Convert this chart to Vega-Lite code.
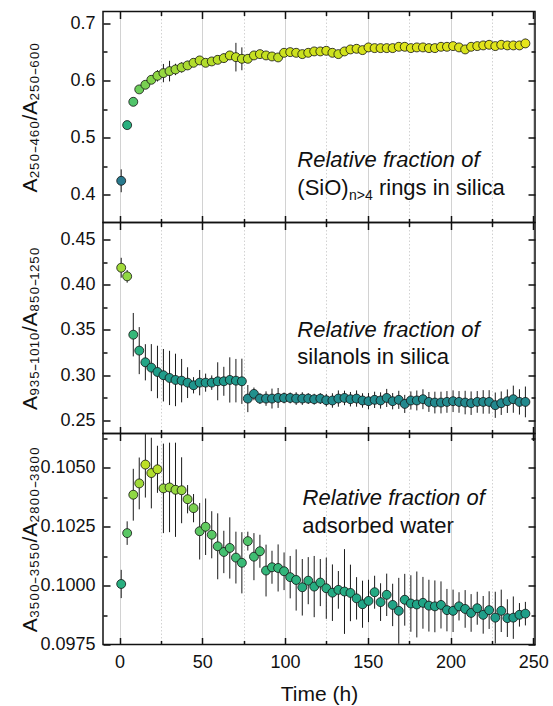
{
  "$schema": "https://vega.github.io/schema/vega-lite/v6.json",
  "padding": {"top": 9.5, "left": 18, "right": 5, "bottom": 5},
  "background": "white",
  "spacing": 0,
  "bounds": "flush",
  "config": {
    "view": {"stroke": "#111", "strokeWidth": 1.5},
    "axis": {"labelFont": "Liberation Sans", "titleFont": "Liberation Sans", "labelColor": "#111", "titleColor": "#111", "titleFontWeight": "normal", "labelFontSize": 18, "titleFontSize": 21, "domain": false, "tickColor": "#111", "tickWidth": 1.5}
  },
  "datasets": {
    "p1": [
      {"t":1.0,"v":0.4245,"e":0.020},{"t":4.6,"v":0.5219,"e":0.005},{"t":8.3,"v":0.5626,"e":0.005},{"t":11.9,"v":0.5843,"e":0.006},{"t":15.6,"v":0.5924,"e":0.006},{"t":19.2,"v":0.6011,"e":0.007},{"t":22.9,"v":0.6081,"e":0.010},{"t":26.5,"v":0.6128,"e":0.016},{"t":30.2,"v":0.6163,"e":0.018},{"t":33.8,"v":0.6192,"e":0.010},{"t":37.5,"v":0.6227,"e":0.009},{"t":41.1,"v":0.6262,"e":0.008},{"t":44.7,"v":0.6308,"e":0.007},{"t":48.4,"v":0.6350,"e":0.006},{"t":52.0,"v":0.6308,"e":0.006},{"t":55.7,"v":0.6332,"e":0.006},{"t":59.3,"v":0.6360,"e":0.006},{"t":63.0,"v":0.6390,"e":0.008},{"t":66.6,"v":0.6437,"e":0.007},{"t":70.3,"v":0.6407,"e":0.025},{"t":73.9,"v":0.6378,"e":0.020},{"t":77.5,"v":0.6378,"e":0.007},{"t":81.2,"v":0.6437,"e":0.005},{"t":84.8,"v":0.6460,"e":0.005},{"t":88.5,"v":0.6437,"e":0.005},{"t":92.1,"v":0.6419,"e":0.005},{"t":95.8,"v":0.6402,"e":0.005},{"t":99.4,"v":0.6483,"e":0.005},{"t":103.1,"v":0.6495,"e":0.005},{"t":106.7,"v":0.6483,"e":0.005},{"t":110.4,"v":0.6460,"e":0.005},{"t":114.0,"v":0.6483,"e":0.005},{"t":117.6,"v":0.6507,"e":0.005},{"t":121.3,"v":0.6507,"e":0.005},{"t":124.9,"v":0.6518,"e":0.005},{"t":128.6,"v":0.6483,"e":0.006},{"t":132.2,"v":0.6460,"e":0.006},{"t":135.9,"v":0.6507,"e":0.005},{"t":139.5,"v":0.6542,"e":0.005},{"t":143.2,"v":0.6553,"e":0.005},{"t":146.8,"v":0.6530,"e":0.005},{"t":150.4,"v":0.6577,"e":0.005},{"t":154.1,"v":0.6565,"e":0.005},{"t":157.7,"v":0.6565,"e":0.005},{"t":161.4,"v":0.6565,"e":0.005},{"t":165.0,"v":0.6565,"e":0.005},{"t":168.7,"v":0.6588,"e":0.005},{"t":172.3,"v":0.6588,"e":0.005},{"t":176.0,"v":0.6565,"e":0.005},{"t":179.6,"v":0.6577,"e":0.005},{"t":183.3,"v":0.6577,"e":0.005},{"t":186.9,"v":0.6565,"e":0.005},{"t":190.5,"v":0.6565,"e":0.005},{"t":194.2,"v":0.6588,"e":0.005},{"t":197.8,"v":0.6588,"e":0.005},{"t":201.5,"v":0.6600,"e":0.005},{"t":205.1,"v":0.6577,"e":0.005},{"t":208.8,"v":0.6542,"e":0.005},{"t":212.4,"v":0.6588,"e":0.005},{"t":216.1,"v":0.6600,"e":0.005},{"t":219.7,"v":0.6612,"e":0.006},{"t":223.3,"v":0.6623,"e":0.006},{"t":227.0,"v":0.6600,"e":0.006},{"t":230.6,"v":0.6623,"e":0.006},{"t":234.3,"v":0.6612,"e":0.006},{"t":237.9,"v":0.6612,"e":0.006},{"t":241.6,"v":0.6612,"e":0.006},{"t":245.2,"v":0.6647,"e":0.008}
    ],
    "p2": [
      {"t":1.0,"v":0.4188,"e":0.011},{"t":4.6,"v":0.4093,"e":0.007},{"t":8.3,"v":0.3448,"e":0.024},{"t":11.9,"v":0.3272,"e":0.026},{"t":15.6,"v":0.3143,"e":0.020},{"t":19.2,"v":0.3084,"e":0.026},{"t":22.9,"v":0.3036,"e":0.029},{"t":26.5,"v":0.3000,"e":0.029},{"t":30.2,"v":0.2970,"e":0.030},{"t":33.8,"v":0.2948,"e":0.029},{"t":37.5,"v":0.2940,"e":0.024},{"t":41.1,"v":0.2918,"e":0.017},{"t":44.7,"v":0.2889,"e":0.009},{"t":48.4,"v":0.2918,"e":0.014},{"t":52.0,"v":0.2918,"e":0.010},{"t":55.7,"v":0.2918,"e":0.008},{"t":59.3,"v":0.2933,"e":0.021},{"t":63.0,"v":0.2933,"e":0.016},{"t":66.6,"v":0.2948,"e":0.025},{"t":70.3,"v":0.2940,"e":0.024},{"t":73.9,"v":0.2933,"e":0.025},{"t":77.5,"v":0.2742,"e":0.015},{"t":81.2,"v":0.2794,"e":0.007},{"t":84.8,"v":0.2742,"e":0.006},{"t":88.5,"v":0.2742,"e":0.008},{"t":92.1,"v":0.2742,"e":0.011},{"t":95.8,"v":0.2749,"e":0.011},{"t":99.4,"v":0.2749,"e":0.006},{"t":103.1,"v":0.2749,"e":0.006},{"t":106.7,"v":0.2742,"e":0.007},{"t":110.4,"v":0.2742,"e":0.007},{"t":114.0,"v":0.2742,"e":0.006},{"t":117.6,"v":0.2735,"e":0.006},{"t":121.3,"v":0.2742,"e":0.006},{"t":124.9,"v":0.2724,"e":0.007},{"t":128.6,"v":0.2721,"e":0.008},{"t":132.2,"v":0.2742,"e":0.009},{"t":135.9,"v":0.2749,"e":0.008},{"t":139.5,"v":0.2735,"e":0.008},{"t":143.2,"v":0.2742,"e":0.009},{"t":146.8,"v":0.2721,"e":0.008},{"t":150.4,"v":0.2713,"e":0.009},{"t":154.1,"v":0.2728,"e":0.009},{"t":157.7,"v":0.2721,"e":0.009},{"t":161.4,"v":0.2749,"e":0.010},{"t":165.0,"v":0.2713,"e":0.009},{"t":168.7,"v":0.2728,"e":0.010},{"t":172.3,"v":0.2683,"e":0.010},{"t":176.0,"v":0.2721,"e":0.010},{"t":179.6,"v":0.2721,"e":0.011},{"t":183.3,"v":0.2735,"e":0.011},{"t":186.9,"v":0.2705,"e":0.011},{"t":190.5,"v":0.2698,"e":0.012},{"t":194.2,"v":0.2698,"e":0.012},{"t":197.8,"v":0.2705,"e":0.012},{"t":201.5,"v":0.2713,"e":0.012},{"t":205.1,"v":0.2705,"e":0.012},{"t":208.8,"v":0.2698,"e":0.013},{"t":212.4,"v":0.2691,"e":0.013},{"t":216.1,"v":0.2705,"e":0.012},{"t":219.7,"v":0.2705,"e":0.013},{"t":223.3,"v":0.2705,"e":0.013},{"t":227.0,"v":0.2669,"e":0.014},{"t":230.6,"v":0.2691,"e":0.013},{"t":234.3,"v":0.2713,"e":0.013},{"t":237.9,"v":0.2735,"e":0.015},{"t":241.6,"v":0.2705,"e":0.014},{"t":245.2,"v":0.2705,"e":0.017}
    ],
    "p3": [
      {"t":1.0,"v":0.10007,"e":0.0006},{"t":4.6,"v":0.10223,"e":0.0005},{"t":8.3,"v":0.10386,"e":0.0011},{"t":11.9,"v":0.10434,"e":0.0011},{"t":15.6,"v":0.10514,"e":0.0014},{"t":19.2,"v":0.10478,"e":0.0015},{"t":22.9,"v":0.10494,"e":0.0010},{"t":26.5,"v":0.10413,"e":0.0019},{"t":30.2,"v":0.10417,"e":0.0019},{"t":33.8,"v":0.10407,"e":0.0020},{"t":37.5,"v":0.10405,"e":0.0014},{"t":41.1,"v":0.10367,"e":0.0006},{"t":44.7,"v":0.10329,"e":0.0006},{"t":48.4,"v":0.10231,"e":0.0012},{"t":52.0,"v":0.10250,"e":0.0012},{"t":55.7,"v":0.10216,"e":0.0010},{"t":59.3,"v":0.10167,"e":0.0014},{"t":63.0,"v":0.10143,"e":0.0009},{"t":66.6,"v":0.10160,"e":0.0013},{"t":70.3,"v":0.10119,"e":0.0011},{"t":73.9,"v":0.10097,"e":0.0013},{"t":77.5,"v":0.10189,"e":0.0004},{"t":81.2,"v":0.10123,"e":0.0010},{"t":84.8,"v":0.10146,"e":0.0007},{"t":88.5,"v":0.10064,"e":0.0011},{"t":92.1,"v":0.10078,"e":0.0007},{"t":95.8,"v":0.10075,"e":0.0010},{"t":99.4,"v":0.10061,"e":0.0008},{"t":103.1,"v":0.10036,"e":0.0009},{"t":106.7,"v":0.10024,"e":0.0013},{"t":110.4,"v":0.09993,"e":0.0012},{"t":114.0,"v":0.10021,"e":0.0010},{"t":117.6,"v":0.09996,"e":0.0013},{"t":121.3,"v":0.10013,"e":0.0010},{"t":124.9,"v":0.09989,"e":0.0013},{"t":128.6,"v":0.09970,"e":0.0012},{"t":132.2,"v":0.09982,"e":0.0008},{"t":135.9,"v":0.09975,"e":0.0018},{"t":139.5,"v":0.09969,"e":0.0012},{"t":143.2,"v":0.09946,"e":0.0009},{"t":146.8,"v":0.09921,"e":0.0010},{"t":150.4,"v":0.09935,"e":0.0009},{"t":154.1,"v":0.09972,"e":0.0007},{"t":157.7,"v":0.09930,"e":0.0008},{"t":161.4,"v":0.09961,"e":0.0009},{"t":165.0,"v":0.09918,"e":0.0009},{"t":168.7,"v":0.09893,"e":0.0014},{"t":172.3,"v":0.09940,"e":0.0011},{"t":176.0,"v":0.09924,"e":0.0012},{"t":179.6,"v":0.09920,"e":0.0014},{"t":183.3,"v":0.09927,"e":0.0011},{"t":186.9,"v":0.09915,"e":0.0011},{"t":190.5,"v":0.09912,"e":0.0011},{"t":194.2,"v":0.09918,"e":0.0010},{"t":197.8,"v":0.09896,"e":0.0009},{"t":201.5,"v":0.09893,"e":0.0009},{"t":205.1,"v":0.09912,"e":0.0006},{"t":208.8,"v":0.09901,"e":0.0008},{"t":212.4,"v":0.09884,"e":0.0008},{"t":216.1,"v":0.09904,"e":0.0007},{"t":219.7,"v":0.09876,"e":0.0008},{"t":223.3,"v":0.09896,"e":0.0008},{"t":227.0,"v":0.09864,"e":0.0011},{"t":230.6,"v":0.09893,"e":0.0009},{"t":234.3,"v":0.09862,"e":0.0008},{"t":237.9,"v":0.09864,"e":0.0009},{"t":241.6,"v":0.09876,"e":0.0005},{"t":245.2,"v":0.09881,"e":0.0005}
    ]
  },
  "resolve": {"scale": {"x": "independent", "y": "independent", "color": "independent"}},
  "vconcat": [
    {
      "width": 432, "height": 211,
      "resolve": {"scale": {"x": "independent", "y": "independent"}},
      "layer": [
        {"data": {"name": "p1"}, "mark": {"type": "point", "opacity": 0},
         "encoding": {"x": {"field": "t", "type": "quantitative", "scale": {"domain": [-10, 251], "nice": false, "zero": false},
                            "axis": {"orient": "bottom", "values": [0, 50, 100, 150, 200, 250], "grid": true, "gridColor": "#d2d2d2", "gridWidth": 1, "tickSize": -7, "labels": false, "title": null}},
                      "y": {"field": "v", "type": "quantitative", "scale": {"domain": [0.3516, 0.7205], "nice": false, "zero": false},
                            "axis": {"orient": "left", "values": [0.4, 0.5, 0.6, 0.7], "format": ".1f", "grid": false, "tickSize": -7, "labelPadding": 15, "title": "A₂₅₀₋₄₆₀/A₂₅₀₋₆₀₀", "titleX": -67, "titleBaseline": "alphabetic"}}}},
        {"data": {"name": "p1"}, "mark": {"type": "point", "opacity": 0},
         "encoding": {"x": {"field": "t", "type": "quantitative", "scale": {"domain": [-10, 251], "nice": false, "zero": false},
                            "axis": {"orient": "bottom", "values": [25, 75, 125, 175, 225], "grid": true, "gridColor": "#d2d2d2", "gridDash": [1.5, 2], "tickSize": -4, "labels": false, "title": null}},
                      "y": {"field": "v", "type": "quantitative", "scale": {"domain": [0.3516, 0.7205], "nice": false, "zero": false},
                            "axis": {"orient": "left", "values": [0.45, 0.55, 0.65], "grid": false, "tickSize": -4, "labels": false, "title": null}}}},
        {"data": {"name": "p1"}, "mark": {"type": "point", "opacity": 0},
         "encoding": {"x": {"field": "t", "type": "quantitative", "scale": {"domain": [-10, 251], "nice": false, "zero": false},
                            "axis": {"orient": "top", "values": [0, 50, 100, 150, 200, 250], "grid": false, "tickSize": -7, "labels": false, "title": null}},
                      "y": {"field": "v", "type": "quantitative", "scale": {"domain": [0.3516, 0.7205], "nice": false, "zero": false},
                            "axis": {"orient": "right", "values": [0.4, 0.5, 0.6, 0.7], "grid": false, "tickSize": -7, "labels": false, "title": null}}}},
        {"data": {"name": "p1"}, "mark": {"type": "point", "opacity": 0},
         "encoding": {"x": {"field": "t", "type": "quantitative", "scale": {"domain": [-10, 251], "nice": false, "zero": false},
                            "axis": {"orient": "top", "values": [25, 75, 125, 175, 225], "grid": false, "tickSize": -4, "labels": false, "title": null}},
                      "y": {"field": "v", "type": "quantitative", "scale": {"domain": [0.3516, 0.7205], "nice": false, "zero": false},
                            "axis": {"orient": "right", "values": [0.45, 0.55, 0.65], "grid": false, "tickSize": -4, "labels": false, "title": null}}}},
        {
          "layer": [
            {"data": {"name": "p1"}, "mark": {"type": "errorbar", "color": "#1a1a1a", "thickness": 1, "clip": true},
             "encoding": {"x": {"field": "t", "type": "quantitative", "scale": {"domain": [-10, 251], "nice": false, "zero": false}, "axis": null},
                          "y": {"field": "v", "type": "quantitative", "scale": {"domain": [0.3516, 0.7205], "nice": false, "zero": false}, "axis": null},
                          "yError": {"field": "e"}}},
            {"data": {"name": "p1"}, "mark": {"type": "circle", "size": 80, "opacity": 1, "stroke": "#111", "strokeWidth": 0.8},
             "encoding": {"x": {"field": "t", "type": "quantitative", "scale": {"domain": [-10, 251], "nice": false, "zero": false}, "axis": null},
                          "y": {"field": "v", "type": "quantitative", "scale": {"domain": [0.3516, 0.7205], "nice": false, "zero": false}, "axis": null},
                          "color": {"field": "v", "type": "quantitative", "scale": {"scheme": "viridis", "domain": [0.25, 0.68]}, "legend": null}}},
            {"data": {"values": [{"t": 107.4, "v": 0.4483, "label": "Relative fraction of"}]},
             "mark": {"type": "text", "font": "Liberation Sans", "fontSize": 22, "fontStyle": "italic", "align": "left", "baseline": "alphabetic", "color": "#111"},
             "encoding": {"x": {"field": "t", "type": "quantitative", "axis": null}, "y": {"field": "v", "type": "quantitative", "axis": null}, "text": {"field": "label"}}},
            {"data": {"values": [{"t": 107.4, "v": 0.3994, "label": "(SiO)"}, {"t": 156.7, "v": 0.3994, "label": "rings in silica"}]},
             "mark": {"type": "text", "font": "Liberation Sans", "fontSize": 22, "align": "left", "baseline": "alphabetic", "color": "#111"},
             "encoding": {"x": {"field": "t", "type": "quantitative", "axis": null}, "y": {"field": "v", "type": "quantitative", "axis": null}, "text": {"field": "label"}}},
            {"data": {"values": [{"t": 138.6, "v": 0.3906, "label": "n>4"}]},
             "mark": {"type": "text", "font": "Liberation Sans", "fontSize": 14, "align": "left", "baseline": "alphabetic", "color": "#111"},
             "encoding": {"x": {"field": "t", "type": "quantitative", "axis": null}, "y": {"field": "v", "type": "quantitative", "axis": null}, "text": {"field": "label"}}}
          ]
        }
      ]
    },
    {
      "width": 432, "height": 211,
      "resolve": {"scale": {"x": "independent", "y": "independent"}},
      "layer": [
        {"data": {"name": "p2"}, "mark": {"type": "point", "opacity": 0},
         "encoding": {"x": {"field": "t", "type": "quantitative", "scale": {"domain": [-10, 251], "nice": false, "zero": false},
                            "axis": {"orient": "bottom", "values": [0, 50, 100, 150, 200, 250], "grid": true, "gridColor": "#d2d2d2", "gridWidth": 1, "tickSize": -7, "labels": false, "title": null}},
                      "y": {"field": "v", "type": "quantitative", "scale": {"domain": [0.2356, 0.4688], "nice": false, "zero": false},
                            "axis": {"orient": "left", "values": [0.25, 0.3, 0.35, 0.4, 0.45], "format": ".2f", "grid": false, "tickSize": -7, "labelPadding": 15, "title": "A₉₃₅₋₁₀₁₀/A₈₅₀₋₁₂₅₀", "titleX": -67, "titleBaseline": "alphabetic"}}}},
        {"data": {"name": "p2"}, "mark": {"type": "point", "opacity": 0},
         "encoding": {"x": {"field": "t", "type": "quantitative", "scale": {"domain": [-10, 251], "nice": false, "zero": false},
                            "axis": {"orient": "bottom", "values": [25, 75, 125, 175, 225], "grid": true, "gridColor": "#d2d2d2", "gridDash": [1.5, 2], "tickSize": -4, "labels": false, "title": null}},
                      "y": {"field": "v", "type": "quantitative", "scale": {"domain": [0.2356, 0.4688], "nice": false, "zero": false},
                            "axis": {"orient": "left", "values": [0.275, 0.325, 0.375, 0.425], "grid": false, "tickSize": -4, "labels": false, "title": null}}}},
        {"data": {"name": "p2"}, "mark": {"type": "point", "opacity": 0},
         "encoding": {"x": {"field": "t", "type": "quantitative", "scale": {"domain": [-10, 251], "nice": false, "zero": false},
                            "axis": {"orient": "top", "values": [0, 50, 100, 150, 200, 250], "grid": false, "tickSize": -7, "labels": false, "title": null}},
                      "y": {"field": "v", "type": "quantitative", "scale": {"domain": [0.2356, 0.4688], "nice": false, "zero": false},
                            "axis": {"orient": "right", "values": [0.25, 0.3, 0.35, 0.4, 0.45], "grid": false, "tickSize": -7, "labels": false, "title": null}}}},
        {"data": {"name": "p2"}, "mark": {"type": "point", "opacity": 0},
         "encoding": {"x": {"field": "t", "type": "quantitative", "scale": {"domain": [-10, 251], "nice": false, "zero": false},
                            "axis": {"orient": "top", "values": [25, 75, 125, 175, 225], "grid": false, "tickSize": -4, "labels": false, "title": null}},
                      "y": {"field": "v", "type": "quantitative", "scale": {"domain": [0.2356, 0.4688], "nice": false, "zero": false},
                            "axis": {"orient": "right", "values": [0.275, 0.325, 0.375, 0.425], "grid": false, "tickSize": -4, "labels": false, "title": null}}}},
        {
          "layer": [
            {"data": {"name": "p2"}, "mark": {"type": "errorbar", "color": "#1a1a1a", "thickness": 1, "clip": true},
             "encoding": {"x": {"field": "t", "type": "quantitative", "scale": {"domain": [-10, 251], "nice": false, "zero": false}, "axis": null},
                          "y": {"field": "v", "type": "quantitative", "scale": {"domain": [0.2356, 0.4688], "nice": false, "zero": false}, "axis": null},
                          "yError": {"field": "e"}}},
            {"data": {"name": "p2"}, "mark": {"type": "circle", "size": 80, "opacity": 1, "stroke": "#111", "strokeWidth": 0.8},
             "encoding": {"x": {"field": "t", "type": "quantitative", "scale": {"domain": [-10, 251], "nice": false, "zero": false}, "axis": null},
                          "y": {"field": "v", "type": "quantitative", "scale": {"domain": [0.2356, 0.4688], "nice": false, "zero": false}, "axis": null},
                          "color": {"field": "v", "type": "quantitative", "scale": {"scheme": "viridis", "domain": [0.089, 0.473]}, "legend": null}}},
            {"data": {"values": [{"t": 107.4, "v": 0.3421, "label": "Relative fraction of"}]},
             "mark": {"type": "text", "font": "Liberation Sans", "fontSize": 22, "fontStyle": "italic", "align": "left", "baseline": "alphabetic", "color": "#111"},
             "encoding": {"x": {"field": "t", "type": "quantitative", "axis": null}, "y": {"field": "v", "type": "quantitative", "axis": null}, "text": {"field": "label"}}},
            {"data": {"values": [{"t": 107.4, "v": 0.3126, "label": "silanols in silica"}]},
             "mark": {"type": "text", "font": "Liberation Sans", "fontSize": 22, "align": "left", "baseline": "alphabetic", "color": "#111"},
             "encoding": {"x": {"field": "t", "type": "quantitative", "axis": null}, "y": {"field": "v", "type": "quantitative", "axis": null}, "text": {"field": "label"}}}
          ]
        }
      ]
    },
    {
      "width": 432, "height": 211,
      "resolve": {"scale": {"x": "independent", "y": "independent"}},
      "layer": [
        {"data": {"name": "p3"}, "mark": {"type": "point", "opacity": 0},
         "encoding": {"x": {"field": "t", "type": "quantitative", "scale": {"domain": [-10, 251], "nice": false, "zero": false},
                            "axis": {"orient": "bottom", "values": [0, 50, 100, 150, 200, 250], "grid": true, "gridColor": "#d2d2d2", "gridWidth": 1, "tickSize": -7, "labelPadding": 16, "title": "Time (h)", "titlePadding": 12}},
                      "y": {"field": "v", "type": "quantitative", "scale": {"domain": [0.0975, 0.10646], "nice": false, "zero": false},
                            "axis": {"orient": "left", "values": [0.0975, 0.1, 0.1025, 0.105], "format": ".4f", "grid": false, "tickSize": -7, "labelPadding": 15, "title": "A₃₅₀₀₋₃₅₅₀/A₂₈₀₀₋₃₈₀₀", "titleX": -67, "titleBaseline": "alphabetic"}}}},
        {"data": {"name": "p3"}, "mark": {"type": "point", "opacity": 0},
         "encoding": {"x": {"field": "t", "type": "quantitative", "scale": {"domain": [-10, 251], "nice": false, "zero": false},
                            "axis": {"orient": "bottom", "values": [25, 75, 125, 175, 225], "grid": true, "gridColor": "#d2d2d2", "gridDash": [1.5, 2], "tickSize": -4, "labels": false, "title": null}},
                      "y": {"field": "v", "type": "quantitative", "scale": {"domain": [0.0975, 0.10646], "nice": false, "zero": false},
                            "axis": {"orient": "left", "values": [0.09875, 0.10125, 0.10375, 0.10625], "grid": false, "tickSize": -4, "labels": false, "title": null}}}},
        {"data": {"name": "p3"}, "mark": {"type": "point", "opacity": 0},
         "encoding": {"x": {"field": "t", "type": "quantitative", "scale": {"domain": [-10, 251], "nice": false, "zero": false},
                            "axis": {"orient": "top", "values": [0, 50, 100, 150, 200, 250], "grid": false, "tickSize": -7, "labels": false, "title": null}},
                      "y": {"field": "v", "type": "quantitative", "scale": {"domain": [0.0975, 0.10646], "nice": false, "zero": false},
                            "axis": {"orient": "right", "values": [0.0975, 0.1, 0.1025, 0.105], "grid": false, "tickSize": -7, "labels": false, "title": null}}}},
        {"data": {"name": "p3"}, "mark": {"type": "point", "opacity": 0},
         "encoding": {"x": {"field": "t", "type": "quantitative", "scale": {"domain": [-10, 251], "nice": false, "zero": false},
                            "axis": {"orient": "top", "values": [25, 75, 125, 175, 225], "grid": false, "tickSize": -4, "labels": false, "title": null}},
                      "y": {"field": "v", "type": "quantitative", "scale": {"domain": [0.0975, 0.10646], "nice": false, "zero": false},
                            "axis": {"orient": "right", "values": [0.09875, 0.10125, 0.10375, 0.10625], "grid": false, "tickSize": -4, "labels": false, "title": null}}}},
        {
          "layer": [
            {"data": {"name": "p3"}, "mark": {"type": "errorbar", "color": "#1a1a1a", "thickness": 1, "clip": true},
             "encoding": {"x": {"field": "t", "type": "quantitative", "scale": {"domain": [-10, 251], "nice": false, "zero": false}, "axis": null},
                          "y": {"field": "v", "type": "quantitative", "scale": {"domain": [0.0975, 0.10646], "nice": false, "zero": false}, "axis": null},
                          "yError": {"field": "e"}}},
            {"data": {"name": "p3"}, "mark": {"type": "circle", "size": 80, "opacity": 1, "stroke": "#111", "strokeWidth": 0.8},
             "encoding": {"x": {"field": "t", "type": "quantitative", "scale": {"domain": [-10, 251], "nice": false, "zero": false}, "axis": null},
                          "y": {"field": "v", "type": "quantitative", "scale": {"domain": [0.0975, 0.10646], "nice": false, "zero": false}, "axis": null},
                          "color": {"field": "v", "type": "quantitative", "scale": {"scheme": "viridis", "domain": [0.08843, 0.10695]}, "legend": null}}},
            {"data": {"values": [{"t": 110.6, "v": 0.10342, "label": "Relative fraction of"}]},
             "mark": {"type": "text", "font": "Liberation Sans", "fontSize": 22, "fontStyle": "italic", "align": "left", "baseline": "alphabetic", "color": "#111"},
             "encoding": {"x": {"field": "t", "type": "quantitative", "axis": null}, "y": {"field": "v", "type": "quantitative", "axis": null}, "text": {"field": "label"}}},
            {"data": {"values": [{"t": 110.4, "v": 0.10224, "label": "adsorbed water"}]},
             "mark": {"type": "text", "font": "Liberation Sans", "fontSize": 22, "align": "left", "baseline": "alphabetic", "color": "#111"},
             "encoding": {"x": {"field": "t", "type": "quantitative", "axis": null}, "y": {"field": "v", "type": "quantitative", "axis": null}, "text": {"field": "label"}}}
          ]
        }
      ]
    }
  ]
}
